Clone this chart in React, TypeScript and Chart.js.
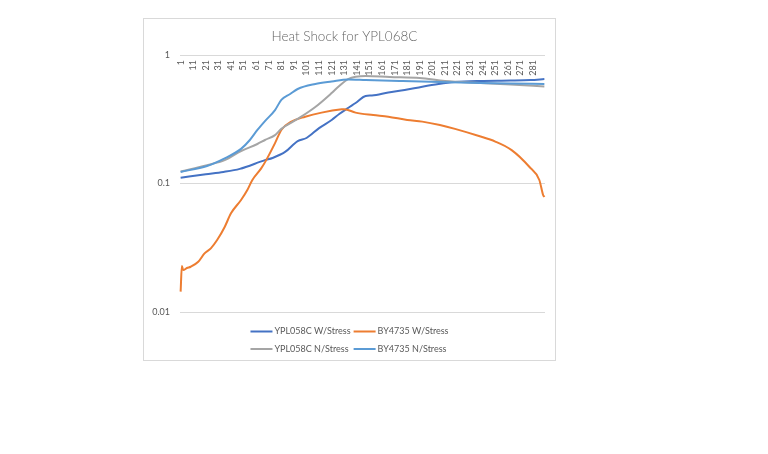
import React, { useEffect, useRef } from "react";
import { Chart, registerables } from "chart.js";

Chart.register(...registerables);

const chartTitle = "Heat Shock for YPL068C";
const categories: string[] = Array.from({ length: 290 }, (_, i) => String(i + 1));
const xTickLabels: string[] = categories.filter((_, i) => i % 10 === 0);
const yTicks = [0.01, 0.1, 1];

const seriesNames = ["YPL058C W/Stress", "BY4735 W/Stress", "YPL058C N/Stress", "BY4735 N/Stress"];
const seriesColors = ["#4472C4", "#ED7D31", "#A5A5A5", "#5B9BD5"];

// [category, value]
const ypl058cWStress: [number, number][] = [
  [1, 0.111], [21, 0.118], [35, 0.123], [48, 0.13], [68, 0.152], [74, 0.158], [84, 0.176],
  [94, 0.214], [101, 0.226], [111, 0.27], [121, 0.312], [127, 0.347], [134, 0.387],
  [140, 0.423], [148, 0.48], [153, 0.484], [166, 0.511], [179, 0.534], [193, 0.567],
  [206, 0.595], [219, 0.616], [239, 0.628], [263, 0.633], [279, 0.639], [290, 0.65],
];

const by4735WStress: [number, number][] = [
  [1, 0.0144], [2, 0.0228], [3, 0.0212], [6, 0.022], [9, 0.0225], [15, 0.0246], [20, 0.0286],
  [25, 0.0313], [30, 0.0363], [36, 0.0459], [41, 0.0586], [49, 0.0744], [54, 0.089],
  [58, 0.1065], [65, 0.131], [69, 0.152], [76, 0.206], [81, 0.261], [89, 0.303], [100, 0.331],
  [113, 0.356], [129, 0.378], [131, 0.379], [140, 0.356], [154, 0.341], [166, 0.331],
  [181, 0.312], [193, 0.303], [207, 0.285], [219, 0.266], [238, 0.234], [251, 0.212],
  [264, 0.182], [278, 0.135], [286, 0.1065], [289, 0.0814], [290, 0.0785],
];

const ypl058cNStress: [number, number][] = [
  [1, 0.124], [22, 0.139], [36, 0.152], [49, 0.179], [62, 0.203], [68, 0.218], [76, 0.238],
  [81, 0.266], [94, 0.318], [108, 0.394], [121, 0.506], [127, 0.574], [134, 0.65],
  [148, 0.686], [167, 0.674], [191, 0.662], [211, 0.628], [239, 0.606], [263, 0.589],
  [290, 0.569],
];

const by4735NStress: [number, number][] = [
  [1, 0.123], [22, 0.137], [36, 0.157], [49, 0.186], [56, 0.218], [62, 0.261], [68, 0.306],
  [76, 0.373], [81, 0.447], [88, 0.497], [94, 0.544], [108, 0.595], [121, 0.622],
  [134, 0.645], [148, 0.639], [175, 0.628], [207, 0.616], [239, 0.606], [263, 0.6],
  [290, 0.595],
];

const seriesData = [ypl058cWStress, by4735WStress, ypl058cNStress, by4735NStress];

const FONT = "Lato, 'Liberation Sans', sans-serif";
const TEXT_COLOR = "#595959";

const xLabelPlugin = {
  id: "xTopLabels",
  afterDraw(chart: any) {
    const { ctx, chartArea } = chart;
    const xs = chart.scales.x;
    ctx.save();
    ctx.fillStyle = TEXT_COLOR;
    ctx.font = `9px ${FONT}`;
    ctx.textAlign = "right";
    ctx.textBaseline = "middle";
    xTickLabels.forEach((lab) => {
      const x = xs.getPixelForValue(categories.indexOf(lab));
      ctx.save();
      ctx.translate(x, chartArea.top + 5);
      ctx.rotate(-Math.PI / 2);
      ctx.fillText(lab, 0, 0);
      ctx.restore();
    });
    ctx.restore();
  },
};

const legendPlugin = {
  id: "gridLegend",
  afterDraw(chart: any) {
    const { ctx, chartArea } = chart;
    const ds = chart.data.datasets;
    ctx.save();
    ctx.font = `9px ${FONT}`;
    const lineLen = 22;
    const gap = 2;
    const colGap = 3;
    const rows = [
      [0, 1],
      [2, 3],
    ];
    const colW = [0, 1].map(
      (c) => Math.max(...rows.map((r) => lineLen + gap + ctx.measureText(ds[r[c]].label).width)) + colGap
    );
    const total = colW[0] + colW[1] - colGap;
    const x0 = chart.width / 2 - total / 2;
    const rowY = [chartArea.bottom + 19.5, chartArea.bottom + 37];
    rows.forEach((r, ri) => {
      let x = x0;
      r.forEach((di, ci) => {
        const y = rowY[ri];
        ctx.strokeStyle = ds[di].borderColor;
        ctx.lineWidth = 2;
        ctx.beginPath();
        ctx.moveTo(x, y);
        ctx.lineTo(x + lineLen, y);
        ctx.stroke();
        ctx.fillStyle = TEXT_COLOR;
        ctx.textAlign = "left";
        ctx.textBaseline = "middle";
        ctx.fillText(ds[di].label, x + lineLen + gap, y);
        x += colW[ci];
      });
    });
    ctx.restore();
  },
};

export default function App() {
  const ref = useRef<HTMLCanvasElement | null>(null);

  useEffect(() => {
    if (!ref.current) return;
    const chart = new Chart(ref.current, {
      type: "line",
      data: {
        labels: categories,
        datasets: seriesData.map((pts, i) => ({
          label: seriesNames[i],
          data: pts.map(([c, v]) => ({ x: String(c), y: v })),
          borderColor: seriesColors[i],
          backgroundColor: seriesColors[i],
          borderWidth: 2,
          pointRadius: 0,
          fill: false,
          cubicInterpolationMode: "monotone",
          order: 4 - i,
        })),
      },
      options: {
        responsive: false,
        animation: false,
        devicePixelRatio: 1,
        layout: { padding: { top: 0, left: 0, right: 10, bottom: 48 } },
        plugins: {
          legend: { display: false },
          tooltip: { enabled: false },
          title: {
            display: true,
            text: chartTitle,
            color: "#666666",
            font: { family: FONT, size: 13.5, weight: 300 },
            padding: { top: 9.3, bottom: 10.5 },
          },
        },
        scales: {
          x: { type: "category", display: false, offset: true },
          y: {
            type: "logarithmic",
            min: 0.01,
            max: 1,
            afterBuildTicks: (s: any) => {
              s.ticks = yTicks.map((v) => ({ value: v }));
            },
            afterFit: (s: any) => {
              s.width = 36;
            },
            ticks: {
              callback: (v: any) => String(v),
              color: TEXT_COLOR,
              font: { family: FONT, size: 9 },
              padding: 10,
            },
            grid: { color: "#d9d9d9", drawTicks: false },
            border: { display: false },
          },
        },
      } as any,
      plugins: [xLabelPlugin, legendPlugin],
    });
    return () => chart.destroy();
  }, []);

  return (
    <div
      style={{
        position: "absolute",
        left: 143,
        top: 18,
        width: 411,
        height: 341,
        border: "1px solid #d9d9d9",
        background: "#fff",
      }}
    >
      <canvas ref={ref} width={411} height={341} style={{ display: "block" }} />
    </div>
  );
}
